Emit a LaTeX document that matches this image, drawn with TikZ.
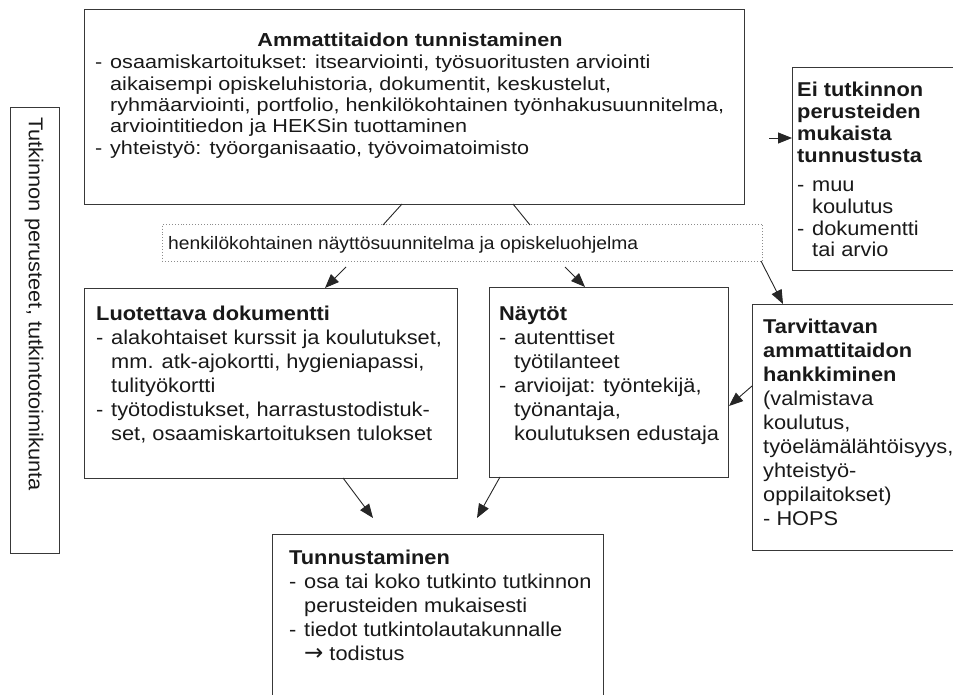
\documentclass[tikz,border=0pt]{standalone}
\usepackage{fontspec}
\setmainfont[FakeStretch=1.09]{Liberation Sans}
\newfontfamily\topfam[FakeStretch=1.15]{Liberation Sans}
\newfontfamily\planfam[FakeStretch=1.07]{Liberation Sans}
\newfontfamily\symfam{DejaVu Sans}
\usetikzlibrary{arrows.meta}
\newcommand\itemdash{\makebox[15pt][l]{-}}
\newcommand\itemcont{\hspace*{15pt}}
\newcommand\bodyfont{\fontsize{20}{24}\selectfont}
\begin{document}
\begin{tikzpicture}[x=1pt,y=-1pt,
  box/.style={draw=black!78, line width=1.1pt, inner sep=0, anchor=north west},
  dotbox/.style={draw=black!45, dotted, line width=0.9pt, inner sep=0, anchor=north west},
  txt/.style={anchor=base west, inner sep=0, text=black!90},
  link/.style={draw=black!85, line width=0.9pt},
  arr/.style={link, -{Triangle[length=14pt,width=11pt]}},
]
\useasboundingbox (0,0) rectangle (953,695);
\begin{scope}
\clip (0,0) rectangle (953,695);
% boxes
\node[box, minimum width=49pt, minimum height=446pt] (side) at (10,107) {};
\node[box, minimum width=660pt, minimum height=195pt] (top) at (84,9) {};
\node[dotbox, minimum width=600pt, minimum height=37pt] (plan) at (162,224) {};
\node[box, minimum width=175pt, minimum height=203pt] (ei) at (792,67) {};
\node[box, minimum width=373pt, minimum height=190pt] (luot) at (84,288) {};
\node[box, minimum width=239pt, minimum height=190pt] (nay) at (489,287) {};
\node[box, minimum width=215pt, minimum height=246pt] (tarv) at (752,304) {};
\node[box, minimum width=331pt, minimum height=180pt] (tunn) at (272,534) {};
% texts
\node[anchor=west, inner sep=0, rotate=-90, text=black!90, font=\bodyfont] (sidetxt) at (34,117) {Tutkinnon perusteet, tutkintotoimikunta};
\node[anchor=base, inner sep=0, text=black!90, font=\topfam\fontsize{18.8}{21.3}\selectfont\bfseries] (toptitle) at (410,47) {Ammattitaidon tunnistaminen};
\node[txt] (topbody) at (95,69) {\parbox[t]{650pt}{\raggedright\topfam\fontsize{18.8}{21.3}\selectfont
\itemdash osaamiskartoitukset: itsearviointi, työsuoritusten arviointi\\
\itemcont aikaisempi opiskeluhistoria, dokumentit, keskustelut,\\
\itemcont ryhmäarviointi, portfolio, henkilökohtainen työnhakusuunnitelma,\\
\itemcont arviointitiedon ja HEKSin tuottaminen\\
\itemdash yhteistyö: työorganisaatio, työvoimatoimisto}};
\node[txt, font=\planfam\fontsize{18}{21}\selectfont] (plantxt) at (168,249) {henkilökohtainen näyttösuunnitelma ja opiskeluohjelma};
\node[txt] (eitxt) at (797,97) {\parbox[t]{160pt}{\raggedright\fontsize{20}{21.7}\selectfont
\textbf{Ei tutkinnon}\\ \textbf{perusteiden}\\ \textbf{mukaista}\\ \textbf{tunnustusta}\\[8pt]
\itemdash muu\\ \itemcont koulutus\\ \itemdash dokumentti\\ \itemcont tai arvio}};
\node[txt] (luottxt) at (96,320) {\parbox[t]{360pt}{\raggedright\bodyfont
\textbf{Luotettava dokumentti}\\
\itemdash alakohtaiset kurssit ja koulutukset,\\
\itemcont mm. atk-ajokortti, hygieniapassi,\\
\itemcont tulityökortti\\
\itemdash työtodistukset, harrastustodistuk-\\
\itemcont set, osaamiskartoituksen tulokset}};
\node[txt] (naytxt) at (499,320) {\parbox[t]{230pt}{\raggedright\bodyfont
\textbf{Näytöt}\\
\itemdash autenttiset\\
\itemcont työtilanteet\\
\itemdash arvioijat: työntekijä,\\
\itemcont työnantaja,\\
\itemcont koulutuksen edustaja}};
\node[txt] (tarvtxt) at (763,333) {\parbox[t]{200pt}{\raggedright\bodyfont
\textbf{Tarvittavan}\\ \textbf{ammattitaidon}\\ \textbf{hankkiminen}\\
(valmistava\\ koulutus,\\ työelämälähtöisyys,\\ yhteistyö-\\ oppilaitokset)\\
- HOPS}};
\node[txt] (tunntxt) at (289,564) {\parbox[t]{320pt}{\raggedright\bodyfont
\textbf{Tunnustaminen}\\
\itemdash osa tai koko tutkinto tutkinnon\\
\itemcont perusteiden mukaisesti\\
\itemdash tiedot tutkintolautakunnalle\\
\itemcont {\symfam\fontsize{23}{24}\selectfont →}\hspace*{6pt}todistus}};
% connector end points
\coordinate (t1) at (402,204); \coordinate (p1) at (383,225);
\coordinate (t2) at (513,204); \coordinate (p2) at (530,225);
\coordinate (pl) at (346,267); \coordinate (lt) at (325,288);
\coordinate (pr) at (565,267); \coordinate (nt) at (585,287);
\coordinate (pc) at (761,261); \coordinate (tt) at (783,304);
\coordinate (tl) at (752,386); \coordinate (nr) at (729,406);
\coordinate (eis) at (769,138); \coordinate (eil) at (792,138);
\coordinate (lb) at (343,478); \coordinate (ua) at (373,518);
\coordinate (nb) at (500,477); \coordinate (ub) at (477,518);
% connectors
\draw[link] (t1) -- (p1);
\draw[link] (t2) -- (p2);
\draw[arr] (pl) -- (lt);
\draw[arr] (pr) -- (nt);
\draw[arr] (pc) -- (tt);
\draw[arr] (tl) -- (nr);
\draw[arr] (eis) -- (eil);
\draw[arr] (lb) -- (ua);
\draw[arr] (nb) -- (ub);
\end{scope}
\end{tikzpicture}
\end{document}
